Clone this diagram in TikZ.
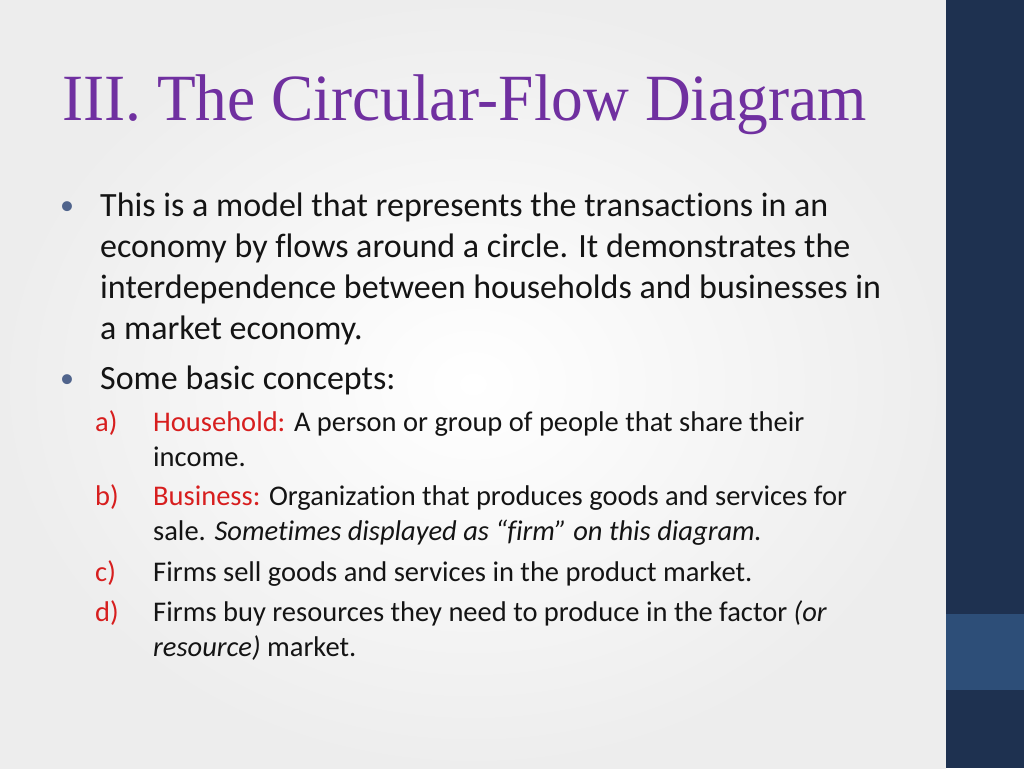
\documentclass[tikz,border=0pt]{standalone}
\usepackage{fontspec}
\setmainfont[Ligatures=NoCommon]{Carlito}
\newfontfamily\titlefont{Liberation Serif}
\definecolor{navy}{RGB}{30,49,80}
\definecolor{navyl}{RGB}{45,78,120}
\definecolor{ttl}{RGB}{112,48,160}
\definecolor{txt}{RGB}{20,20,20}
\definecolor{red1}{RGB}{215,30,30}
\definecolor{bul}{RGB}{80,100,140}
\begin{document}
\begin{tikzpicture}[x=1pt,y=-1pt,
  body/.style={anchor=base west,inner sep=0,font=\fontsize{34}{38}\selectfont,text=txt},
  sub/.style={anchor=base west,inner sep=0,font=\fontsize{28.5}{32}\selectfont,text=txt},
  lab/.style={anchor=base west,inner sep=0,font=\fontsize{28.5}{32}\selectfont,text=red1},
  bull/.style={anchor=base west,inner sep=0,font=\fontsize{28}{30}\selectfont,text=bul}]
\useasboundingbox (0,0) rectangle (1024,768);
\shade[inner color=white,outer color=black!7] (0,0) rectangle (946,768);
\fill[navy] (946,0) rectangle (1024,768);
\fill[navyl] (946,614) rectangle (1024,690);
\node[anchor=base west,inner sep=0,text=ttl,xscale=0.96,font=\titlefont\fontsize{66}{68}\selectfont] (t) at (62,120) {III. The Circular-Flow Diagram};
\node[bull] (b1) at (60,214) {•};
\node[body] (l1) at (100,216) {This is a model that represents the transactions in an};
\node[body] (l2) at (100,257) {economy by flows around a circle. It demonstrates the};
\node[body] (l3) at (100,298) {interdependence between households and businesses in};
\node[body] (l4) at (100,339) {a market economy.};
\node[bull] (b2) at (60,387) {•};
\node[body] (l5) at (100,389) {Some basic concepts:};
\node[lab] (a) at (95,431) {a)};
\node[sub] (a1) at (153,431) {\textcolor{red1}{Household:} A person or group of people that share their};
\node[sub] (a2) at (153,466) {income.};
\node[lab] (b) at (95,505) {b)};
\node[sub] (b1t) at (153,505) {\textcolor{red1}{Business:} Organization that produces goods and services for};
\node[sub] (b2t) at (153,540) {sale. \textit{Sometimes displayed as “firm” on this diagram.}};
\node[lab] (c) at (95,581) {c)};
\node[sub] (c1) at (153,581) {Firms sell goods and services in the product market.};
\node[lab] (d) at (95,621) {d)};
\node[sub] (d1) at (153,621) {Firms buy resources they need to produce in the factor \textit{(or}};
\node[sub] (d2) at (153,656) {\textit{resource)} market.};
\end{tikzpicture}
\end{document}
